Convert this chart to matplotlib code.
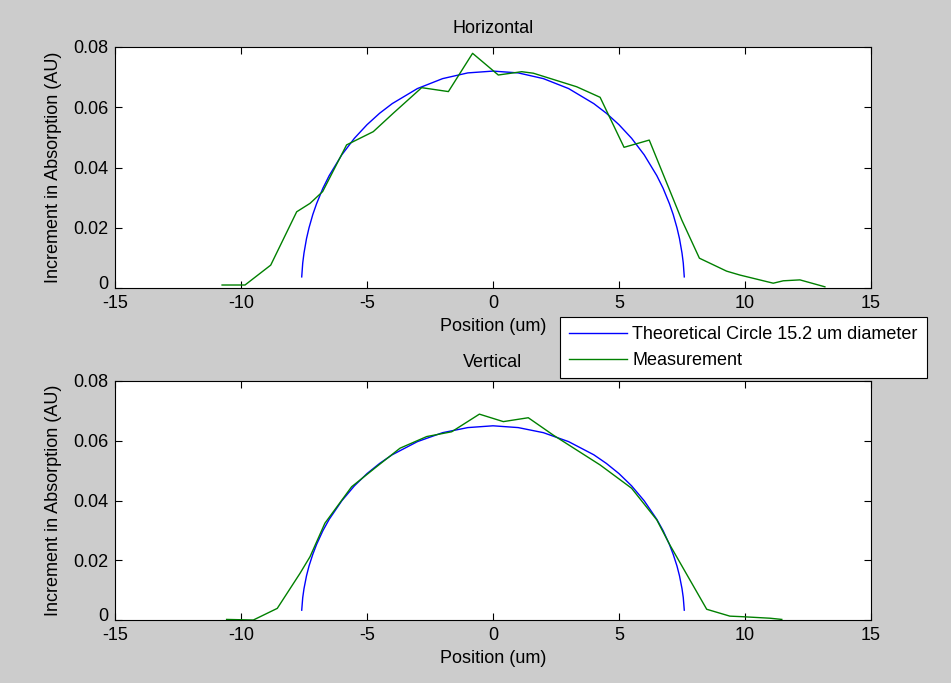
"""Horizontal / vertical absorption profiles vs. theoretical circle."""

import matplotlib
matplotlib.use("Agg")
import matplotlib.pyplot as plt
import matplotlib.transforms as mtransforms

plt.rcParams["font.family"] = ["Liberation Sans", "DejaVu Sans"]
plt.rcParams["font.size"] = 13
plt.rcParams["axes.unicode_minus"] = False

# theoretical circle (15.2 um diameter)
circ_x = [-7.59, -7.55, -7.5, -7.4, -7.3, -7.15, -7.0, -6.75, -6.5, -6.0, -5.5, -5.0, -4.5,
          -4.0, -3.0, -2.0, -1.0, 0.0, 1.0, 2.0, 3.0, 4.0, 4.5, 5.0, 5.5, 6.0, 6.5, 6.75,
          7.0, 7.15, 7.3, 7.4, 7.5, 7.55, 7.59]
circ_h = [0.0037, 0.0083, 0.0116, 0.0164, 0.0200, 0.0244, 0.0280, 0.0331, 0.0373, 0.0442,
          0.0497, 0.0542, 0.0580, 0.0612, 0.0662, 0.0695, 0.0714, 0.0720, 0.0714, 0.0695,
          0.0662, 0.0612, 0.0580, 0.0542, 0.0497, 0.0442, 0.0373, 0.0331, 0.0280, 0.0244,
          0.0200, 0.0164, 0.0116, 0.0083, 0.0037]
circ_v = [0.0033, 0.0075, 0.0105, 0.0148, 0.0181, 0.0220, 0.0253, 0.0299, 0.0337, 0.0399,
          0.0449, 0.0490, 0.0524, 0.0553, 0.0597, 0.0627, 0.0644, 0.0650, 0.0644, 0.0627,
          0.0597, 0.0553, 0.0524, 0.0490, 0.0449, 0.0399, 0.0337, 0.0299, 0.0253, 0.0220,
          0.0181, 0.0148, 0.0105, 0.0075, 0.0033]

# measurement, horizontal
meas_h_x = [-10.75, -9.84, -8.82, -7.79, -7.26, -6.76, -5.81, -4.75, -3.96, -2.83, -1.77,
            -0.81, 0.21, 1.14, 1.6, 3.32, 4.25, 5.2, 6.2, 7.49, 8.19, 9.27, 9.8, 11.12,
            11.52, 12.18, 13.17]
meas_h_y = [0.0010, 0.0010, 0.0076, 0.0253, 0.0281, 0.0320, 0.0475, 0.0519, 0.0580, 0.0665,
            0.0652, 0.0779, 0.0707, 0.0718, 0.0713, 0.0668, 0.0633, 0.0467, 0.0491, 0.0226,
            0.0099, 0.0056, 0.0043, 0.0016, 0.0024, 0.0027, 0.0004]

# measurement, vertical
meas_v_x = [-10.57, -9.51, -8.56, -7.66, -7.26, -6.67, -5.61, -4.62, -3.69, -2.63, -1.64,
            -0.54, 0.41, 1.4, 2.39, 4.25, 5.5, 6.5, 7.02, 8.48, 9.4, 9.93, 11.0, 11.46]
meas_v_y = [0.0002, 0.0000, 0.0039, 0.0156, 0.0212, 0.0324, 0.0446, 0.0513, 0.0575, 0.0614,
            0.0630, 0.0689, 0.0664, 0.0677, 0.0619, 0.0519, 0.0441, 0.0335, 0.0251, 0.0036,
            0.0013, 0.0011, 0.0006, 0.0002]

x_ticks = [-15, -10, -5, 0, 5, 10, 15]
y_ticks = [0, 0.02, 0.04, 0.06, 0.08]
y_labels = ["0", "0.02", "0.04", "0.06", "0.08"]

fig = plt.figure(figsize=(9.51, 6.83), dpi=100)
fig.patch.set_facecolor("#cccccc")

ax_top = fig.add_axes([0.1209, 0.5783, 0.795, 0.3529])
ax_bot = fig.add_axes([0.1209, 0.0922, 0.795, 0.3500])

panels = [(ax_top, "Horizontal", circ_h, meas_h_x, meas_h_y),
          (ax_bot, "Vertical", circ_v, meas_v_x, meas_v_y)]

# nudge the "0" y label up a little, like the original, so it clears "-15"
nudge = mtransforms.ScaledTranslation(0, 4 / 72, fig.dpi_scale_trans)

for ax, title, circ_y, mx, my in panels:
    l1, = ax.plot(circ_x, circ_y, color="#0000ff", lw=1.0,
                  label="Theoretical Circle 15.2 um diameter")
    l2, = ax.plot(mx, my, color="#008000", lw=1.0, label="Measurement")
    ax.set_xlim(-15, 15)
    ax.set_ylim(0, 0.08)
    ax.set_xticks(x_ticks)
    ax.set_yticks(y_ticks)
    ax.set_yticklabels(y_labels)
    ax.tick_params(direction="in", top=True, right=True, length=5, width=0.8)
    ax.tick_params(axis="x", pad=5)
    ax.tick_params(axis="y", pad=5)
    for sp in ax.spines.values():
        sp.set_linewidth(0.8)
    ax.set_title(title, fontsize=13, pad=10)
    ax.set_xlabel("Position (um)", labelpad=4)
    ax.set_ylabel("Increment in Absorption (AU)", labelpad=8)
    zero_lbl = ax.get_yticklabels()[0]
    zero_lbl.set_transform(zero_lbl.get_transform() + nudge)

leg = fig.legend(handles=[l1, l2], loc="upper left",
                 bbox_to_anchor=(560 / 951, 1 - 317 / 683),
                 fancybox=False, framealpha=1, edgecolor="black",
                 handlelength=3.2, borderpad=0.5, labelspacing=0.5,
                 handletextpad=0.3, borderaxespad=0, fontsize=13)
leg.get_frame().set_linewidth(0.8)

fig.savefig("out.png", dpi=100, facecolor=fig.get_facecolor())
